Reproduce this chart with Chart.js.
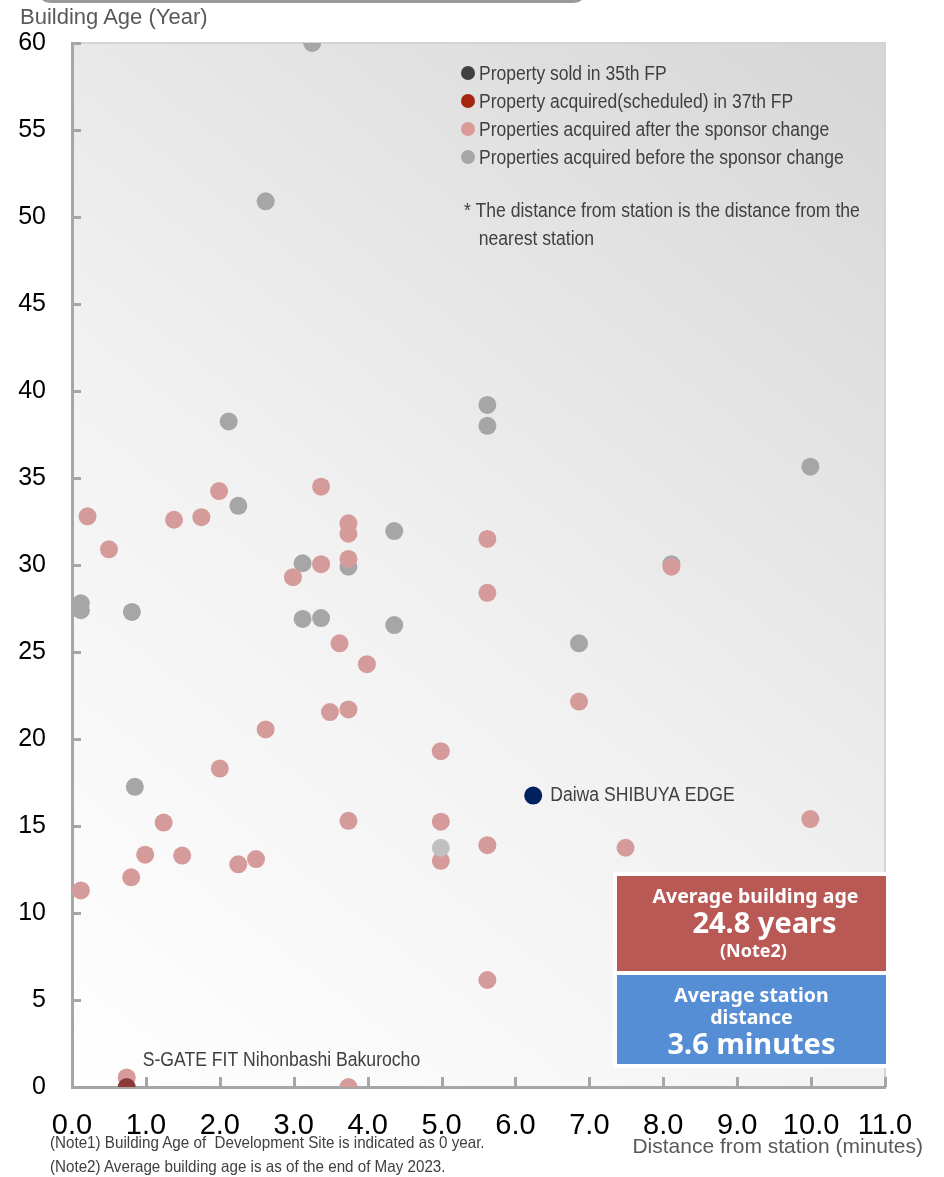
<!DOCTYPE html>
<html>
<head>
<meta charset="utf-8">
<script src="https://cdn.jsdelivr.net/npm/chart.js@4.4.0/dist/chart.umd.min.js"></script>
<style>
  html, body { margin: 0; padding: 0; background: #fff; }
  #wrap { position: relative; width: 944px; height: 1177px; overflow: hidden;
          font-family: "Liberation Sans Narrow", "Arial Narrow", "Liberation Sans", sans-serif; }
  #chart { position: absolute; left: 0; top: 0; }
  .topbar { position: absolute; left: 38px; top: -12px; width: 542px; height: 12px;
            border: 3px solid #9a9a9a; border-top: none; border-radius: 0 0 12px 12px; }
  .narrow { display: inline-block; transform: scaleX(0.875); transform-origin: 0 50%; }
  .ytitle { position: absolute; left: 20px; top: 4px; font-size: 22px; color: #595959; white-space: nowrap; }
  .xtitle { position: absolute; right: 21px; top: 1134px; font-size: 21px; color: #595959; white-space: nowrap; }
  .note { position: absolute; left: 50px; font-size: 16.5px; color: #404040; white-space: nowrap;
          transform: scaleX(0.92); transform-origin: 0 50%; }
  .legend { position: absolute; left: 460px; top: 60px; }
  .legend .row { position: absolute; left: 0; height: 26px; white-space: nowrap; font-size: 20px; color: #404040; }
  .legend .dot { position: absolute; left: 1px; top: 6px; width: 14px; height: 14px; border-radius: 50%; }
  .legend .txt { position: absolute; left: 19px; top: 0; line-height: 26px; }
  .star { position: absolute; left: 464px; top: 196px; font-size: 20px; color: #404040; line-height: 28px; white-space: nowrap; }
  .star div { transform: scaleX(0.88); transform-origin: 0 50%; }
  .avg { position: absolute; left: 613px; top: 872px; width: 275px; height: 196px; background: #fff; }
  .box { position: absolute; left: 4px; width: 269px; color: #fff; text-align: center;
         font-family: "Noto Sans", "Open Sans", sans-serif; font-weight: bold; }
  .b1 { top: 4px; height: 95px; background: #b85955; }
  .b2 { top: 103px; height: 89px; background: #558ed5; }
  .box div { position: absolute; left: 0; width: 100%; white-space: nowrap; }
</style>
</head>
<body>
<div id="wrap">
  <canvas id="chart" width="944" height="1177"></canvas>
  <div class="topbar"></div>
  <div class="ytitle">Building Age (Year)</div>
  <div class="xtitle">Distance from station (minutes)</div>
  <div class="note" style="top:1133px">(Note1) Building Age of &nbsp;Development Site is indicated as 0 year.</div>
  <div class="note" style="top:1157px">(Note2) Average building age is as of the end of May 2023.</div>

  <div class="legend">
    <div class="row" style="top:0px"><span class="dot" style="background:#404040"></span><span class="txt narrow">Property sold in 35th FP</span></div>
    <div class="row" style="top:28px"><span class="dot" style="background:#a3260f"></span><span class="txt narrow">Property acquired(scheduled) in 37th FP</span></div>
    <div class="row" style="top:56px"><span class="dot" style="background:#da9a98"></span><span class="txt narrow">Properties acquired after the sponsor change</span></div>
    <div class="row" style="top:84px"><span class="dot" style="background:#a6a6a6"></span><span class="txt narrow">Properties acquired before the sponsor change</span></div>
  </div>
  <div class="star"><div>* The distance from station is the distance from the</div><div>&nbsp;&nbsp;&nbsp;nearest station</div></div>

  <div class="avg">
    <div class="box b1">
      <div style="top:6px;font-size:19.5px;left:4px">Average building age</div>
      <div style="top:26px;font-size:29px;left:13px">24.8 years</div>
      <div style="top:62px;font-size:18px;left:2px">(Note2)</div>
    </div>
    <div class="box b2">
      <div style="top:6px;font-size:19.5px">Average station</div>
      <div style="top:28px;font-size:19.5px">distance</div>
      <div style="top:48px;font-size:29px">3.6 minutes</div>
    </div>
  </div>
</div>

<script>
// Distance from the nearest station (minutes) and building age (years), one pair of arrays per group.
const beforeDist = [3.25, 2.62, 2.12, 2.25, 3.12, 3.12, 3.37, 3.74, 4.36, 4.36, 5.62, 5.62, 6.86, 8.11, 9.99, 0.12, 0.12, 0.81, 0.85];
const beforeAge  = [60.0, 50.9, 38.25, 33.4, 30.1, 26.9, 26.95, 29.9, 31.95, 26.55, 39.2, 38.0, 25.5, 30.05, 35.65, 27.8, 27.4, 27.3, 17.25];

const afterDist = [0.21, 0.50, 1.38, 1.75, 1.99, 3.37, 3.74, 3.74, 3.74, 3.37, 2.99, 3.62, 3.99, 3.49, 3.74,
                   2.62, 2.00, 1.24, 3.74, 4.99, 4.99, 4.99, 0.99, 1.49, 0.80, 2.25, 2.49, 0.12,
                   6.86, 9.99, 5.62, 7.49, 5.62, 5.62, 5.62, 8.11, 0.74, 3.74];
const afterAge  = [32.8, 30.9, 32.6, 32.75, 34.25, 34.5, 32.4, 31.8, 30.35, 30.05, 29.3, 25.5, 24.3, 21.55, 21.7,
                   20.55, 18.3, 15.2, 15.3, 19.3, 15.25, 13.0, 13.35, 13.3, 12.05, 12.8, 13.1, 11.3,
                   22.15, 15.4, 13.9, 13.75, 6.15, 31.5, 28.4, 29.9, 0.55, 0.0];

const otherDist = [4.99];
const otherAge  = [13.75];

const acquired37Dist = [0.74];
const acquired37Age  = [0.0];

const shibuyaDist = [6.24];
const shibuyaAge  = [16.75];

const xTicks = [0, 1, 2, 3, 4, 5, 6, 7, 8, 9, 10, 11];
const yTicks = [0, 5, 10, 15, 20, 25, 30, 35, 40, 45, 50, 55, 60];

const pairs = (xs, ys) => xs.map((x, i) => ({ x: x, y: ys[i] }));

const AXIS = '#a6a6a6';
const NARROW = '"Liberation Sans Narrow", "Arial Narrow", "Liberation Sans", sans-serif';

// Condensed label drawn at (x, y), left-aligned
function narrowText(ctx, text, x, y) {
  ctx.save();
  ctx.translate(x, y);
  ctx.scale(0.88, 1);
  ctx.fillText(text, 0, 0);
  ctx.restore();
}

// Plot area background, light frame, inward tick marks and point captions
const plotDecor = {
  id: 'plotDecor',
  beforeDraw(chart) {
    const { ctx, chartArea: a } = chart;
    const g = ctx.createLinearGradient(a.left, a.bottom, a.right, a.top);
    g.addColorStop(0, '#ffffff');
    g.addColorStop(0.45, '#f1f1f1');
    g.addColorStop(1, '#d6d6d6');
    ctx.save();
    ctx.fillStyle = g;
    ctx.fillRect(a.left, a.top, a.right - a.left, a.bottom - a.top);
    ctx.strokeStyle = '#d4d4d4';
    ctx.lineWidth = 2;
    ctx.beginPath();
    ctx.moveTo(a.left, a.top);
    ctx.lineTo(a.right, a.top);
    ctx.lineTo(a.right, a.bottom);
    ctx.stroke();
    ctx.restore();
  },
  beforeDatasetsDraw(chart) {
    const { ctx, chartArea: a, scales } = chart;
    ctx.save();
    ctx.strokeStyle = AXIS;
    ctx.lineWidth = 3;
    ctx.beginPath();
    yTicks.forEach(v => {
      const y = Math.round(scales.y.getPixelForValue(v)) + 0.5;
      ctx.moveTo(a.left, y);
      ctx.lineTo(a.left + 9, y);
    });
    xTicks.forEach(v => {
      const x = Math.round(scales.x.getPixelForValue(v)) + 0.5;
      ctx.moveTo(x, a.bottom);
      ctx.lineTo(x, a.bottom - 10);
    });
    ctx.stroke();
    ctx.restore();
  },
  afterDatasetsDraw(chart) {
    const { ctx, scales } = chart;
    ctx.save();
    ctx.fillStyle = '#404040';
    ctx.font = '20px ' + NARROW;
    ctx.textBaseline = 'middle';
    ctx.textAlign = 'left';
    const sx = scales.x.getPixelForValue(shibuyaDist[0]);
    const sy = scales.y.getPixelForValue(shibuyaAge[0]);
    narrowText(ctx, 'Daiwa SHIBUYA EDGE', sx + 17, sy);
    const gx = scales.x.getPixelForValue(acquired37Dist[0]);
    const gy = scales.y.getPixelForValue(acquired37Age[0]);
    narrowText(ctx, 'S-GATE FIT Nihonbashi Bakurocho', gx + 16, gy - 27);
    ctx.restore();
  }
};

const pt = (color) => ({
  backgroundColor: color, borderColor: color, pointRadius: 9, pointHoverRadius: 9, borderWidth: 0, pointBorderWidth: 0
});

new Chart(document.getElementById('chart'), {
  type: 'scatter',
  data: {
    datasets: [
      Object.assign({ label: 'Daiwa SHIBUYA EDGE', data: pairs(shibuyaDist, shibuyaAge) }, pt('#002060')),
      Object.assign({ label: 'Property acquired(scheduled) in 37th FP', data: pairs(acquired37Dist, acquired37Age) }, pt('#8b3a3a')),
      Object.assign({ label: 'Other', data: pairs(otherDist, otherAge) }, pt('#c0c0c0')),
      Object.assign({ label: 'Properties acquired after the sponsor change', data: pairs(afterDist, afterAge) }, pt('#d59b9a')),
      Object.assign({ label: 'Properties acquired before the sponsor change', data: pairs(beforeDist, beforeAge) }, pt('#a6a6a6'))
    ]
  },
  options: {
    responsive: false,
    animation: false,
    devicePixelRatio: 1,
    layout: { padding: { top: 43, right: 59, left: 0, bottom: 0 } },
    plugins: { legend: { display: false }, tooltip: { enabled: false } },
    scales: {
      x: {
        type: 'linear', min: 0, max: 11,
        afterFit(s) { s.height = 90; },
        afterBuildTicks(s) { s.ticks = xTicks.map(v => ({ value: v })); },
        grid: { display: true, drawOnChartArea: false, drawTicks: false },
        border: { display: true, color: AXIS, width: 3 },
        ticks: { padding: 22, color: '#000', font: { family: NARROW, size: 29 }, callback: v => v.toFixed(1), maxRotation: 0, autoSkip: false }
      },
      y: {
        type: 'linear', min: 0, max: 60,
        afterFit(s) { s.width = 72; },
        afterBuildTicks(s) { s.ticks = yTicks.map(v => ({ value: v })); },
        grid: { display: true, drawOnChartArea: false, drawTicks: false },
        border: { display: true, color: AXIS, width: 3 },
        ticks: { padding: 26, color: '#000', font: { family: '"Liberation Sans", Arial, sans-serif', size: 25 }, autoSkip: false }
      }
    }
  },
  plugins: [plotDecor]
});
</script>
</body>
</html>
